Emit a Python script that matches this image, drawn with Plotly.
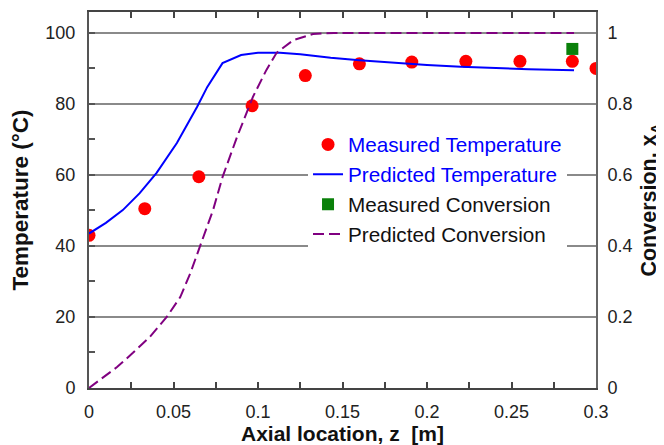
import plotly.graph_objects as go

# Measured temperature (deg C) vs axial location z (m)
z_meas_T = [0.0, 0.033, 0.065, 0.0965, 0.128, 0.160, 0.191, 0.223, 0.255, 0.286, 0.300]
T_meas = [43.0, 50.5, 59.5, 79.5, 88.0, 91.3, 91.8, 92.0, 92.0, 92.0, 90.0]

# Predicted temperature (deg C)
z_pred_T = [0.0, 0.01, 0.02, 0.03, 0.04, 0.052, 0.064, 0.070, 0.079, 0.090, 0.100,
            0.113, 0.125, 0.143, 0.16, 0.18, 0.20, 0.22, 0.24, 0.26, 0.287]
T_pred = [43.5, 46.5, 50.1, 54.9, 60.6, 69.0, 79.2, 84.8, 91.5, 93.8, 94.4,
          94.4, 94.0, 93.0, 92.3, 91.6, 91.0, 90.5, 90.1, 89.8, 89.5]

# Measured conversion x_A
z_meas_X = [0.286]
X_meas = [0.955]

# Predicted conversion x_A
z_pred_X = [0.0, 0.0065, 0.0166, 0.026, 0.036, 0.046, 0.054, 0.060, 0.0657, 0.0734,
            0.079, 0.0876, 0.097, 0.105, 0.111, 0.121, 0.1325, 0.145, 0.16, 0.2, 0.25, 0.287]
X_pred = [0.0, 0.0225, 0.059, 0.099, 0.144, 0.20, 0.256, 0.324, 0.397, 0.501,
          0.594, 0.707, 0.82, 0.896, 0.944, 0.98, 0.997, 1.0, 1.0, 1.0, 1.0, 1.0]

FONT = "Liberation Sans, Arial, sans-serif"

fig = go.Figure()
fig.add_trace(go.Scatter(
    x=z_meas_T, y=T_meas, mode="markers",
    name="<span style='color:#0000ff'>Measured Temperature</span>",
    marker=dict(color="#ff0000", size=13, symbol="circle"),
    legendgroup="a"))
fig.add_trace(go.Scatter(
    x=z_pred_T, y=T_pred, mode="lines",
    name="<span style='color:#0000ff'>Predicted Temperature</span>",
    line=dict(color="#0000ff", width=2),
    legendgroup="b"))
fig.add_trace(go.Scatter(
    x=z_meas_X, y=X_meas, mode="markers", yaxis="y2",
    name="Measured Conversion",
    marker=dict(color="#0a800a", size=12, symbol="square"),
    legendgroup="c"))
fig.add_trace(go.Scatter(
    x=z_pred_X, y=X_pred, mode="lines", yaxis="y2",
    name="Predicted Conversion",
    line=dict(color="#800080", width=2, dash="11px,5px"),
    legendgroup="d"))

# The page body adds an 8px offset, so the figure is 8px smaller on each side.
fig.update_layout(
    width=656, height=437,
    margin=dict(l=81, r=68, t=4, b=57),
    paper_bgcolor="white", plot_bgcolor="white",
    font=dict(family=FONT, size=18, color="#222222"),
    showlegend=True,
    legend=dict(x=0.432, xanchor="left", y=0.701, yanchor="top",
                bgcolor="white", borderwidth=0,
                font=dict(family=FONT, size=20.7, color="#111111"),
                traceorder="grouped", tracegroupgap=0),
    xaxis=dict(range=[0, 0.3], dtick=0.05, tick0=0, automargin=False,
               showline=True, linecolor="#444444", linewidth=2, mirror="ticks",
               ticks="inside", ticklen=6, tickcolor="#444444", tickwidth=1.5,
               minor=dict(dtick=0.025, ticks="inside", ticklen=6, tickcolor="#444444",
                          tickwidth=1.5, showgrid=False),
               showgrid=False, zeroline=False,
               ticklabelstandoff=6,
               title=dict(text="<b>Axial location, z  [m]</b>",
                          font=dict(family=FONT, size=21, color="#111111"), standoff=6)),
    yaxis=dict(range=[0, 105.9], dtick=20, tick0=0, automargin=False,
               showline=True, linecolor="#555555", linewidth=2,
               ticks="inside", ticklen=6, tickcolor="#555555", tickwidth=1.5,
               minor=dict(dtick=10, ticks="inside", ticklen=6, tickcolor="#555555",
                          tickwidth=1.5, showgrid=False),
               showgrid=True, gridcolor="#8a8a8a", gridwidth=1.5, zeroline=False,
               ticklabelstandoff=8,
               title=dict(text="<b>Temperature (°C)</b>",
                          font=dict(family=FONT, size=22.5, color="#111111"), standoff=10)),
    yaxis2=dict(range=[0, 1.059], dtick=0.2, tick0=0, overlaying="y", side="right",
                automargin=False,
                showline=True, linecolor="#666666", linewidth=2,
                ticks="", showgrid=False, zeroline=False,
                ticklabelstandoff=6,
                title=dict(text="<b>Conversion, x<sub>A</sub></b>",
                           font=dict(family=FONT, size=21.5, color="#111111"), standoff=11)),
)

fig.write_html("out.html")
